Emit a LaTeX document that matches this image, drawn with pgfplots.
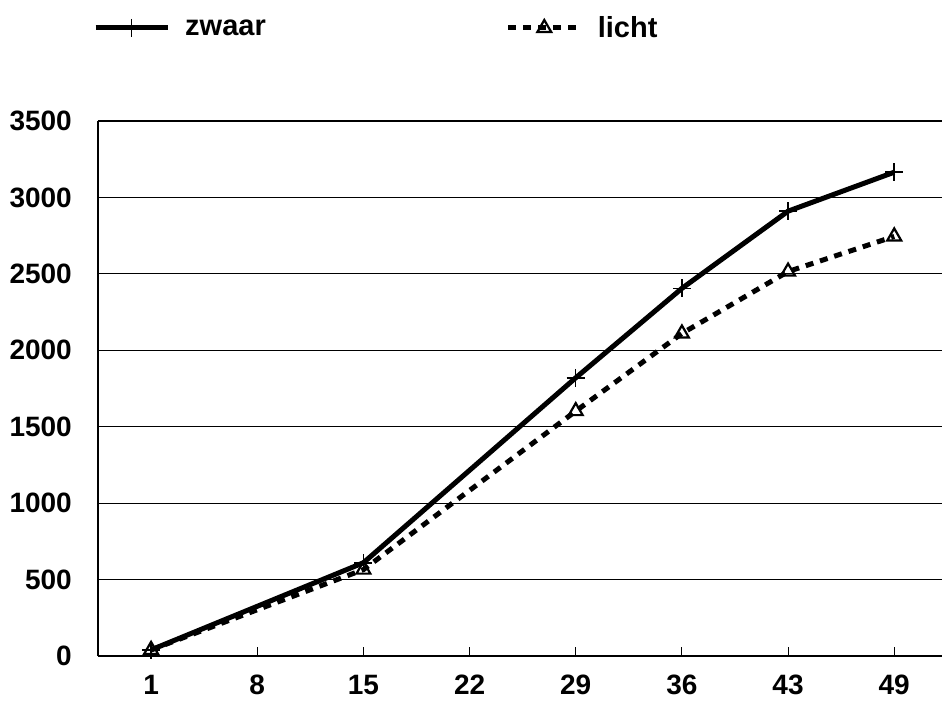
\documentclass[border=0pt]{standalone}
\usepackage{fontspec}
\setmainfont{Liberation Sans}
\usepackage{pgfplots}
\pgfplotsset{compat=1.18}
\begin{document}
\begin{tikzpicture}
\begin{axis}[
  name=plot,
  scale only axis,
  width=844pt, height=535pt,
  xmin=-0.5, xmax=7.45,
  ymin=0, ymax=3500,
  axis lines=left,
  axis line style={-, line width=1.8pt},
  xtick={0,1,2,3,4,5,6,7},
  xticklabels={1,8,15,22,29,36,43,49},
  ytick={0,500,1000,1500,2000,2500,3000,3500},
  /pgf/number format/assume math mode=true,
  /pgf/number format/1000 sep={},
  tick align=inside,
  xtick style={black, line width=1pt},
  ytick style={draw=none},
  major tick length=9pt,
  ymajorgrids,
  grid style={black, line width=1.1pt},
  ticklabel style={font=\bfseries\fontsize{28}{32}\selectfont},
  yticklabel style={anchor=east, inner sep=0pt, xshift=-26pt},
  xticklabel style={anchor=north, inner sep=0pt, yshift=-19pt},
  legend style={at={(axis description cs:0,1)}, anchor=west, xshift=-5pt, yshift=93pt,
    legend columns=2, draw=none, fill=none, inner sep=0pt,
    font=\bfseries\fontsize{29}{33}\selectfont,
    nodes={inner sep=0pt},
    /tikz/every odd column/.append style={column sep=15pt},
    /tikz/every even column/.append style={column sep=240pt}},
  legend image code/.code={\draw[#1, mark repeat=2, mark phase=2] plot coordinates {(0pt,0pt)(36pt,0pt)(72pt,0pt)};},
]
\addplot[black, line width=5pt, mark=+, mark size=9pt, mark options={solid, line width=1.5pt}]
  coordinates {(0,40) (2,610) (4,1820) (5,2405) (6,2910) (7,3165)};
\addlegendentry{zwaar}
\addplot[black, line width=5pt, dash pattern=on 8pt off 7pt, mark=triangle, mark size=8pt, mark options={solid, line width=2.2pt, fill=white}]
  coordinates {(0,40) (2,565) (4,1602) (5,2110) (6,2515) (7,2745)};
\addlegendentry{licht}
\end{axis}
\pgfresetboundingbox
\path (plot.south west) ++(-98pt,-45pt) rectangle ([yshift=121pt]plot.north east);
\end{tikzpicture}
\end{document}
